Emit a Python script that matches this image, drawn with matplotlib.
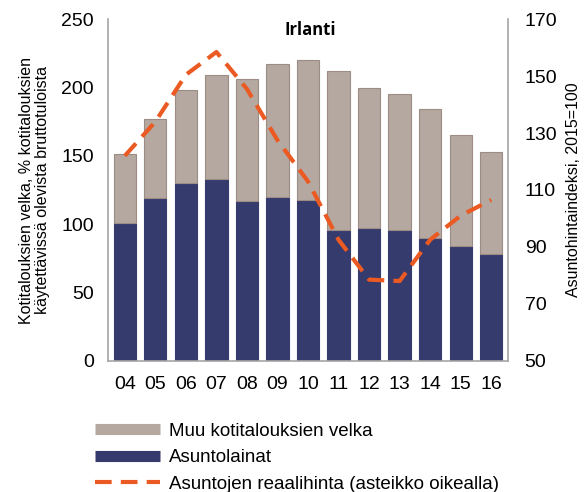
import matplotlib
matplotlib.use("Agg")
import matplotlib.pyplot as plt
from matplotlib.lines import Line2D
import numpy as np

plt.rcParams['font.family'] = ['Liberation Sans', 'DejaVu Sans']

years = ["04", "05", "06", "07", "08", "09", "10", "11", "12", "13", "14", "15", "16"]
total_debt = [151, 177, 198, 209, 206, 217, 220, 212, 200, 195, 184, 165, 153]
mortgages = [101, 119, 130, 133, 117, 120, 118, 96, 97, 96, 90, 84, 78]
real_price = [122, 134, 150.5, 158.5, 145.5, 127.5, 113, 92.5, 78.5, 78, 92.5, 101, 106.5]

other_debt = [t - m for t, m in zip(total_debt, mortgages)]

c_grey = '#B5A8A0'
c_grey_edge = '#9C8C84'
c_navy = '#363B6E'
c_orange = '#EB5A22'
c_spine = '#A6A6A6'

fig = plt.figure(figsize=(5.85, 4.92), dpi=100)
ax = fig.add_axes([108/585, 1-360.7/492, 400/585, (360.7-19.3)/492])
x = np.arange(len(years))
w = 0.73
ax.bar(x, mortgages, width=w, color=c_navy, edgecolor=c_navy, linewidth=0.8, zorder=2)
ax.bar(x, other_debt, width=w, bottom=mortgages, color=c_grey, edgecolor=c_grey_edge, linewidth=0.8, zorder=2)
ax.set_xlim(-0.55, len(years) - 0.45)
ax.set_ylim(0, 250)
ax.set_yticks(range(0, 251, 50))
ax.set_xticks(x)
ax.set_xticklabels(years)
ax.tick_params(axis='both', length=0, labelsize=14, colors='#000000')
ax.tick_params(axis='y', pad=10)
ax.tick_params(axis='x', pad=11)
for s in ['top', 'right']:
    ax.spines[s].set_visible(False)
for s in ['left', 'bottom']:
    ax.spines[s].set_color(c_spine)
    ax.spines[s].set_linewidth(1.2)
ax.set_ylabel("Kotitalouksien velka, % kotitalouksien\nkäytettävissä olevista bruttotuloista",
              fontsize=11.5, labelpad=8, linespacing=1.15)

ax2 = ax.twinx()
ax2.plot(x, real_price, color=c_orange, lw=3, dashes=(4, 2.2), zorder=3)
ax2.set_ylim(50, 170)
ax2.set_yticks(range(50, 171, 20))
ax2.tick_params(axis='y', length=0, labelsize=14, pad=12)
for s in ['top', 'left', 'bottom']:
    ax2.spines[s].set_visible(False)
ax2.spines['right'].set_color(c_spine)
ax2.spines['right'].set_linewidth(1.2)
ax2.set_ylabel("Asuntohintaindeksi, 2015=100", fontsize=11.5, labelpad=6)

ax.text(0.505, 0.995, "Irlanti", transform=ax.transAxes, ha='center', va='top',
        fontsize=12, fontweight='bold', family=['Open Sans', 'DejaVu Sans'])

handles = [
    Line2D([], [], color=c_grey, lw=8, solid_capstyle='butt'),
    Line2D([], [], color=c_navy, lw=8, solid_capstyle='butt'),
    Line2D([], [], color=c_orange, lw=3, dashes=(4, 2.2)),
]
labels = ["Muu kotitalouksien velka", "Asuntolainat", "Asuntojen reaalihinta (asteikko oikealla)"]
fig.legend(handles, labels, loc='upper left', bbox_to_anchor=(87/585, 1-415/492),
           frameon=False, fontsize=13.5, handlelength=3.5, handletextpad=0.45,
           labelspacing=0.5, borderaxespad=0)

fig.savefig("out.png", dpi=100)
